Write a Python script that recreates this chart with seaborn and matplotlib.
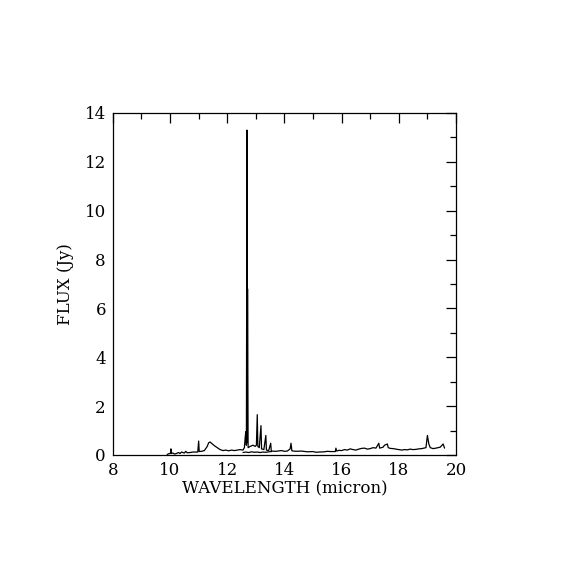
import pandas as pd
import matplotlib
matplotlib.use('Agg')
import matplotlib.pyplot as plt
import seaborn as sns
from matplotlib.ticker import MultipleLocator

# spectrum (main order)
wavelength = [
    9.90, 9.95, 10.00, 10.02, 10.03, 10.04, 10.10, 10.15, 10.20, 10.30, 10.35,
    10.40, 10.50, 10.55, 10.60, 10.70, 10.80, 10.90, 10.97, 11.00, 11.02,
    11.10, 11.20, 11.30, 11.35, 11.40, 11.45, 11.55, 11.65, 11.75, 11.85,
    11.95, 12.05, 12.15, 12.25, 12.35, 12.45, 12.55, 12.60, 12.63, 12.65,
    12.67, 12.69, 12.70, 12.71, 12.73, 12.80, 12.90, 12.98, 13.02, 13.05,
    13.07, 13.12, 13.18, 13.20, 13.28, 13.35, 13.37, 13.45, 13.52, 13.54,
    13.70, 13.90, 14.00, 14.10, 14.20, 14.23, 14.26, 14.40, 14.60, 14.80,
    15.00, 15.10, 15.20, 15.40, 15.50, 15.60, 15.78, 15.80, 15.83, 15.90,
    16.00, 16.10, 16.20, 16.30, 16.40, 16.50, 16.60, 16.70, 16.80, 16.90,
    17.00, 17.10, 17.20, 17.30, 17.33, 17.45, 17.50, 17.60, 17.63, 17.70,
    17.80, 17.90, 18.00, 18.10, 18.20, 18.30, 18.40, 18.50, 18.60, 18.70,
    18.80, 18.95, 19.00, 19.05, 19.10, 19.20, 19.30, 19.45, 19.55, 19.60,
]
flux = [
    0.02, 0.05, 0.06, 0.10, 0.25, 0.06, 0.08, 0.04, 0.05, 0.10, 0.06,
    0.12, 0.08, 0.15, 0.09, 0.10, 0.12, 0.12, 0.12, 0.57, 0.14,
    0.15, 0.18, 0.35, 0.50, 0.53, 0.48, 0.38, 0.30, 0.22, 0.18,
    0.20, 0.17, 0.20, 0.18, 0.20, 0.22, 0.20, 0.30, 0.75, 0.95,
    0.40, 13.30, 0.50, 6.80, 0.30, 0.35, 0.40, 0.35, 0.40, 1.65,
    0.35, 0.30, 1.20, 0.25, 0.22, 0.80, 0.20, 0.18, 0.48, 0.16,
    0.15, 0.18, 0.15, 0.16, 0.25, 0.48, 0.17, 0.15, 0.16, 0.13,
    0.14, 0.11, 0.12, 0.13, 0.15, 0.14, 0.14, 0.28, 0.16, 0.19,
    0.18, 0.22, 0.20, 0.25, 0.22, 0.20, 0.24, 0.27, 0.28, 0.24,
    0.26, 0.30, 0.28, 0.48, 0.28, 0.32, 0.40, 0.45, 0.30, 0.27,
    0.26, 0.24, 0.22, 0.20, 0.22, 0.21, 0.24, 0.22, 0.23, 0.25,
    0.26, 0.30, 0.80, 0.45, 0.30, 0.26, 0.28, 0.32, 0.45, 0.28,
]
# overlapping order under the strong lines
overlap_wavelength = [12.55, 12.65, 12.75, 12.85, 12.95, 13.05, 13.15, 13.25, 13.35, 13.45, 13.55]
overlap_flux = [0.10, 0.12, 0.10, 0.13, 0.11, 0.12, 0.10, 0.12, 0.11, 0.13, 0.14]

spec = pd.DataFrame({'wavelength': wavelength, 'flux': flux})
overlap = pd.DataFrame({'wavelength': overlap_wavelength, 'flux': overlap_flux})

sns.set_style('white')
plt.rcParams['font.family'] = ['DejaVu Serif']
plt.rcParams['text.color'] = 'black'
plt.rcParams['axes.labelcolor'] = 'black'
plt.rcParams['xtick.color'] = 'black'
plt.rcParams['ytick.color'] = 'black'

fig = plt.figure(figsize=(5.7, 5.7), dpi=100)
ax = fig.add_axes([0.198, 0.2018, 0.602, 0.6])

sns.lineplot(data=overlap, x='wavelength', y='flux', sort=False, estimator=None,
             color='black', linewidth=0.9, ax=ax)
sns.lineplot(data=spec, x='wavelength', y='flux', sort=False, estimator=None,
             color='black', linewidth=0.9, ax=ax)

ax.set_xlim(8, 20)
ax.set_ylim(0, 14)
ax.xaxis.set_major_locator(MultipleLocator(2))
ax.xaxis.set_minor_locator(MultipleLocator(1))
ax.yaxis.set_major_locator(MultipleLocator(2))
ax.yaxis.set_minor_locator(MultipleLocator(1))
ax.tick_params(which='both', direction='in', top=True, right=True,
               colors='black', labelsize=12, width=0.9)
ax.tick_params(which='major', length=7, pad=5)
ax.tick_params(which='minor', length=4)
for s in ax.spines.values():
    s.set_color('black')
    s.set_linewidth(0.9)

ax.set_xlabel('WAVELENGTH (micron)', fontsize=12, labelpad=1)
ax.set_ylabel('FLUX (Jy)', fontsize=12, labelpad=8)

fig.savefig('out.png', dpi=100, facecolor='white')
